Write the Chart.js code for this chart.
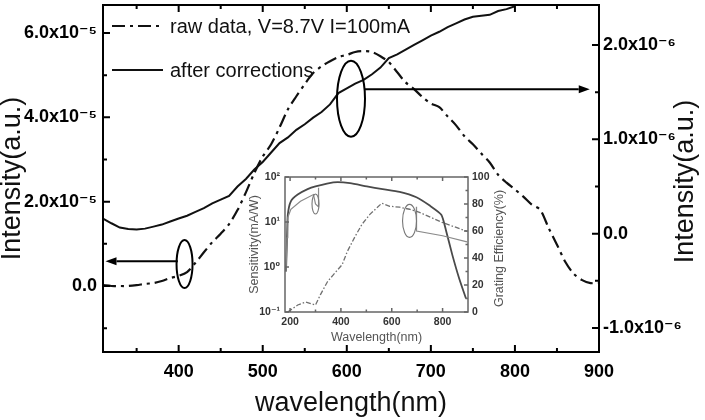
<!DOCTYPE html>
<html>
<head>
<meta charset="utf-8">
<script src="https://cdn.jsdelivr.net/npm/chart.js@4.4.1/dist/chart.umd.min.js"></script>
<style>
  html, body { margin:0; padding:0; background:#fff; }
  #wrap { position:relative; width:705px; height:420px; overflow:hidden; background:#fff; }
  #main { position:absolute; left:0; top:0; }
  #inset { position:absolute; left:246px; top:172px; }
</style>
</head>
<body>
<div id="wrap">
  <canvas id="main" width="705" height="420" style="width:705px;height:420px"></canvas>
  <canvas id="inset" width="264" height="175" style="width:264px;height:175px"></canvas>
</div>
<script>
// ---------------- MAIN CHART DATA ----------------
const wavelengthRaw = [310,320,330,340,350,360,370,380,390,400,410,420,430,440,450,460,470,480,490,500,
  510,520,530,540,550,560,570,580,590,600,610,620,630,640,650,660,670,680,690,700,
  710,720,730,740,750,760,770,780,790,800,810,820,830,840,850,860,870,880,890,900];
// raw data, left axis, in units of 1e-5
const rawIntensity = [0.02,0.00,0.00,0.00,0.02,0.05,0.07,0.12,0.19,0.24,0.33,0.55,0.80,1.04,1.24,1.47,1.80,2.22,2.68,3.07,
  3.36,3.76,4.19,4.50,4.79,5.05,5.21,5.33,5.43,5.48,5.55,5.57,5.55,5.45,5.31,5.07,4.83,4.67,4.48,4.33,
  4.24,4.02,3.81,3.55,3.36,3.14,2.93,2.64,2.45,2.29,2.12,1.93,1.81,1.38,0.98,0.57,0.29,0.14,0.07,0.07];
const wavelengthCorrected = [310,320,330,340,350,360,370,380,390,400,410,420,430,440,450,460,470,480,490,500,
  510,520,530,540,550,560,570,580,590,600,610,620,630,640,650,660,670,680,690,700,
  710,720,730,740,750,760,770,780,790,800];
// after corrections, right axis, in units of 1e-6
const correctedIntensity = [0.16,0.11,0.064,0.048,0.043,0.053,0.074,0.096,0.128,0.16,0.19,0.23,0.27,0.32,0.36,0.40,0.50,0.58,0.68,0.76,
  0.86,0.96,1.02,1.10,1.16,1.23,1.29,1.37,1.49,1.54,1.59,1.63,1.69,1.76,1.86,1.90,1.95,2.00,2.05,2.10,
  2.14,2.19,2.23,2.27,2.30,2.31,2.32,2.36,2.38,2.41];

const xTickValues = [350,400,450,500,550,600,650,700,750,800,850,900];
const xMajorValues = [400,500,600,700,800,900];
const xMajorLabels = ['400','500','600','700','800','900'];
const leftTickValues = [-1,0,1,2,3,4,5,6];
const leftMajorValues = [0,2,4,6];
const leftMajorLabels = ['0.0','2.0x10\u207B\u2075','4.0x10\u207B\u2075','6.0x10\u207B\u2075'];
const rightTickValues = [-1,-0.5,0,0.5,1,1.5,2];
const rightMajorValues = [-1,0,1,2];
const rightMajorLabels = ['-1.0x10\u207B\u2076','0.0','1.0x10\u207B\u2076','2.0x10\u207B\u2076'];
const legendLabels = ['raw data, V=8.7V I=100mA','after corrections'];

// ---------------- INSET DATA ----------------
const insetWavelengthA = [184,188,191,203,230,269,300,370,436,502,564,631,697,748,795,814,838,865,892];
const gratingEffA = [30,55,72,82,87,91,93,96,95.5,93,91,89,85,79,72,60,42.5,25,10];
const insetWavelengthB = [184,188,191,203,241,292,300,311,312,500,697,697.5,800,896];
const gratingEffB = [30,55,70,76,82,87,80,78,92,null,78,60,56.5,52];
const insetWavelengthC = [191,230,261,300,319,347,370,405,425,456,483,514,561,592,631,670,709,798,896];
const sensitivityC = [0.10,0.143,0.167,0.143,0.24,0.47,0.67,1.13,2.2,4.8,8.9,14.8,26.2,22.4,21.3,19.2,16.4,9.8,6.2];
const insetXTickValues = [200,300,400,500,600,700,800];
const insetXMajorValues = [200,400,600,800];
const insetXMajorLabels = ['200','400','600','800'];
const insetLogTickValues = [0.1,1,10,100];
const insetLogLabels = ['10\u207B\u00B9','10\u2070','10\u00B9','10\u00B2'];
const insetPctTickValues = [0,10,20,30,40,50,60,70,80,90,100];
const insetPctMajorValues = [0,20,40,60,80,100];
const insetPctLabels = ['0','20','40','60','80','100'];

const FONT = '"Liberation Sans", Arial, "DejaVu Sans", sans-serif';

function lab(v, vals, labels) {
  for (let i = 0; i < vals.length; i++) if (Math.abs(vals[i] - v) < 1e-9) return labels[i];
  return '';
}
function pts(xs, ys) { return xs.map((x, i) => ({x: x, y: ys[i]})); }

function drawTicks(chart, frameColor, frameWidth, majorLen, minorLen, xId, leftId, rightId) {
  const {ctx, chartArea: a, scales} = chart;
  ctx.save();
  ctx.strokeStyle = frameColor;
  ctx.lineWidth = frameWidth;
  ctx.lineCap = 'butt';
  ctx.strokeRect(a.left, a.top, a.right - a.left, a.bottom - a.top);
  ctx.beginPath();
  const xs = scales[xId];
  xs.ticks.forEach(t => {
    const p = xs.getPixelForValue(t.value);
    const L = t.label ? majorLen : minorLen;
    ctx.moveTo(p, a.bottom); ctx.lineTo(p, a.bottom - L);
    ctx.moveTo(p, a.top); ctx.lineTo(p, a.top + L);
  });
  const yl = scales[leftId];
  yl.ticks.forEach(t => {
    const p = yl.getPixelForValue(t.value);
    const L = t.label ? majorLen : minorLen;
    ctx.moveTo(a.left, p); ctx.lineTo(a.left + L, p);
  });
  const yr = scales[rightId];
  yr.ticks.forEach(t => {
    const p = yr.getPixelForValue(t.value);
    const L = t.label ? majorLen : minorLen;
    ctx.moveTo(a.right, p); ctx.lineTo(a.right - L, p);
  });
  ctx.stroke();
  ctx.restore();
}

function arrow(ctx, x1, y1, x2, y2, head, halfW) {
  const ang = Math.atan2(y2 - y1, x2 - x1);
  const bx = x2 - head * Math.cos(ang), by = y2 - head * Math.sin(ang);
  ctx.beginPath(); ctx.moveTo(x1, y1); ctx.lineTo(bx, by); ctx.stroke();
  ctx.beginPath();
  ctx.moveTo(x2, y2);
  ctx.lineTo(bx + halfW * Math.sin(ang), by - halfW * Math.cos(ang));
  ctx.lineTo(bx - halfW * Math.sin(ang), by + halfW * Math.cos(ang));
  ctx.closePath(); ctx.fill();
}

// annotation anchors (data coordinates)
const ellipseRight = {x: 605, y: 1.43};   // on right axis
const arrowRight = {x1: 621, x2: 889, y: 1.53};
const ellipseLeft = {x: 407, y: 0.52};    // on left axis
const arrowLeft = {x1: 399, x2: 313, y: 0.59};

const mainDecor = {
  id: 'mainDecor',
  afterDraw(chart) {
    const {ctx, chartArea: a, scales} = chart;
    drawTicks(chart, '#000', 2, 7, 4, 'x', 'yL', 'yR');
    const X = scales.x, L = scales.yL, R = scales.yR;
    ctx.save();
    ctx.strokeStyle = '#000'; ctx.fillStyle = '#000'; ctx.lineWidth = 2;
    // ellipse + arrow to right axis
    ctx.beginPath();
    ctx.ellipse(X.getPixelForValue(ellipseRight.x), R.getPixelForValue(ellipseRight.y), 14, 38, 0, 0, Math.PI * 2);
    ctx.stroke();
    arrow(ctx, X.getPixelForValue(arrowRight.x1), R.getPixelForValue(arrowRight.y),
      X.getPixelForValue(arrowRight.x2), R.getPixelForValue(arrowRight.y), 11, 4);
    // ellipse + arrow to left axis
    ctx.beginPath();
    ctx.ellipse(X.getPixelForValue(ellipseLeft.x), L.getPixelForValue(ellipseLeft.y), 8, 24, 0, 0, Math.PI * 2);
    ctx.stroke();
    arrow(ctx, X.getPixelForValue(arrowLeft.x1), L.getPixelForValue(arrowLeft.y),
      X.getPixelForValue(arrowLeft.x2), L.getPixelForValue(arrowLeft.y), 11, 4);
    // legend
    const ds = chart.data.datasets;
    const lx = a.left + 9, lw = 51, tx = a.left + 67;
    const rows = [a.top + 21, a.top + 65];
    ds.forEach((d, i) => {
      ctx.save();
      ctx.lineWidth = d.borderWidth;
      ctx.strokeStyle = d.borderColor;
      ctx.setLineDash(d.borderDash || []);
      ctx.beginPath(); ctx.moveTo(lx, rows[i]); ctx.lineTo(lx + lw, rows[i]); ctx.stroke();
      ctx.restore();
      ctx.font = '20px ' + FONT;
      ctx.fillStyle = '#111';
      ctx.textAlign = 'left';
      ctx.textBaseline = 'middle';
      ctx.fillText(legendLabels[i], tx, rows[i] + 1);
    });
    // right axis title (reads bottom to top)
    ctx.save();
    ctx.translate(685.5, (a.top + a.bottom) / 2 + 3);
    ctx.rotate(-Math.PI / 2);
    ctx.font = '27px ' + FONT;
    ctx.fillStyle = '#111';
    ctx.textAlign = 'center';
    ctx.textBaseline = 'middle';
    ctx.fillText('Intensity(a.u.)', 0, 0);
    ctx.restore();
    ctx.restore();
  }
};

new Chart(document.getElementById('main'), {
  type: 'line',
  data: {
    datasets: [
      {label: legendLabels[0], data: pts(wavelengthRaw, rawIntensity), yAxisID: 'yL',
       borderColor: '#111', borderWidth: 2.2, borderDash: [13, 5, 3, 5], pointRadius: 0, tension: 0.3, fill: false},
      {label: legendLabels[1], data: pts(wavelengthCorrected, correctedIntensity), yAxisID: 'yR',
       borderColor: '#111', borderWidth: 2, pointRadius: 0, tension: 0, fill: false}
    ]
  },
  options: {
    responsive: false, animation: false,
    layout: {padding: {top: 5, left: 0, right: 0, bottom: 0}},
    plugins: {legend: {display: false}, tooltip: {enabled: false}},
    scales: {
      x: {
        type: 'linear', position: 'bottom', min: 310, max: 900,
        grid: {display: false, drawTicks: false}, border: {display: false},
        afterBuildTicks: s => { s.ticks = xTickValues.map(v => ({value: v})); },
        ticks: {autoSkip: false, maxRotation: 0, padding: 9, color: '#000',
          font: {family: FONT, size: 18, weight: 'bold'},
          callback: v => lab(v, xMajorValues, xMajorLabels)},
        title: {display: true, text: 'wavelength(nm)', color: '#111',
          font: {family: FONT, size: 27, lineHeight: 0.9}, padding: {top: 0, bottom: 4}},
        afterFit: s => { s.height = 68; s.paddingLeft = 0; s.paddingRight = 0; }
      },
      yL: {
        type: 'linear', position: 'left', min: -1.565, max: 6.664,
        grid: {display: false, drawTicks: false}, border: {display: false},
        afterBuildTicks: s => { s.ticks = leftTickValues.map(v => ({value: v})); },
        ticks: {autoSkip: false, padding: 6, color: '#000',
          font: {family: FONT, size: 18, weight: 'bold'},
          callback: v => lab(v, leftMajorValues, leftMajorLabels)},
        title: {display: true, text: 'Intensity(a.u.)', color: '#111',
          font: {family: FONT, size: 27, lineHeight: 0.9}, padding: {top: 0, bottom: 0}},
        afterFit: s => { s.width = 103; s.paddingTop = 0; s.paddingBottom = 0; }
      },
      yR: {
        type: 'linear', position: 'right', min: -1.255, max: 2.424,
        grid: {display: false, drawTicks: false}, border: {display: false},
        afterBuildTicks: s => { s.ticks = rightTickValues.map(v => ({value: v})); },
        ticks: {autoSkip: false, padding: 4, color: '#000',
          font: {family: FONT, size: 18, weight: 'bold'},
          callback: v => lab(v, rightMajorValues, rightMajorLabels)},
        title: {display: false},
        afterFit: s => { s.width = 106; s.paddingTop = 0; s.paddingBottom = 0; }
      }
    }
  },
  plugins: [mainDecor]
});

// ---------------- INSET ----------------
const insetEllipse1 = {x: 300, y: 80};
const insetEllipse2 = {x: 670, y: 67.5};

const insetDecor = {
  id: 'insetDecor',
  afterDraw(chart) {
    const {ctx, chartArea: a, scales} = chart;
    drawTicks(chart, '#666', 1.5, 4, 2.5, 'x', 'yS', 'yG');
    const X = scales.x, G = scales.yG;
    ctx.save();
    ctx.strokeStyle = '#777'; ctx.lineWidth = 1.1;
    ctx.beginPath();
    ctx.ellipse(X.getPixelForValue(insetEllipse1.x), G.getPixelForValue(insetEllipse1.y), 3.5, 10, 0, 0, Math.PI * 2);
    ctx.stroke();
    ctx.beginPath();
    ctx.ellipse(X.getPixelForValue(insetEllipse2.x), G.getPixelForValue(insetEllipse2.y), 7, 16.5, 0, 0, Math.PI * 2);
    ctx.stroke();
    ctx.translate(254, (a.top + a.bottom) / 2 + 4);
    ctx.rotate(-Math.PI / 2);
    ctx.font = '12.5px ' + FONT;
    ctx.fillStyle = '#555';
    ctx.textAlign = 'center';
    ctx.textBaseline = 'middle';
    ctx.fillText('Grating Efficiency(%)', 0, 0);
    ctx.restore();
  }
};

new Chart(document.getElementById('inset'), {
  type: 'line',
  data: {
    datasets: [
      {data: pts(insetWavelengthC, sensitivityC), yAxisID: 'yS',
       borderColor: '#707070', borderWidth: 1.3, borderDash: [5, 2, 1.5, 2], pointRadius: 0, tension: 0, fill: false},
      {data: pts(insetWavelengthB, gratingEffB), yAxisID: 'yG', spanGaps: false,
       borderColor: '#8a8a8a', borderWidth: 1.2, pointRadius: 0, tension: 0, fill: false},
      {data: pts(insetWavelengthA, gratingEffA), yAxisID: 'yG',
       borderColor: '#4a4a4a', borderWidth: 1.8, pointRadius: 0, tension: 0.2, fill: false}
    ]
  },
  options: {
    responsive: false, animation: false,
    layout: {padding: {top: 5, left: 0, right: 0, bottom: 0}},
    plugins: {legend: {display: false}, tooltip: {enabled: false}},
    scales: {
      x: {
        type: 'linear', position: 'bottom', min: 180, max: 900,
        grid: {display: false, drawTicks: false}, border: {display: false},
        afterBuildTicks: s => { s.ticks = insetXTickValues.map(v => ({value: v})); },
        ticks: {autoSkip: false, maxRotation: 0, padding: 4, color: '#333',
          font: {family: FONT, size: 10.5, weight: 'bold'},
          callback: v => lab(v, insetXMajorValues, insetXMajorLabels)},
        title: {display: true, text: 'Wavelength(nm)', color: '#555',
          font: {family: FONT, size: 12.5, lineHeight: 1}, padding: {top: 0, bottom: 3.5}},
        afterFit: s => { s.height = 35; s.paddingLeft = 0; s.paddingRight = 0; }
      },
      yS: {
        type: 'logarithmic', position: 'left', min: 0.1, max: 100,
        grid: {display: false, drawTicks: false}, border: {display: false},
        afterBuildTicks: s => { s.ticks = insetLogTickValues.map(v => ({value: v})); },
        ticks: {autoSkip: false, padding: 5, color: '#333',
          font: {family: FONT, size: 10.5, weight: 'bold'},
          callback: v => lab(v, insetLogTickValues, insetLogLabels)},
        title: {display: true, text: 'Sensitivity(mA/W)', color: '#555',
          font: {family: FONT, size: 12.5, lineHeight: 1}, padding: {top: 2.5, bottom: 0}},
        afterFit: s => { s.width = 39; s.paddingTop = 0; s.paddingBottom = 0; }
      },
      yG: {
        type: 'linear', position: 'right', min: 0, max: 100,
        grid: {display: false, drawTicks: false}, border: {display: false},
        afterBuildTicks: s => { s.ticks = insetPctTickValues.map(v => ({value: v})); },
        ticks: {autoSkip: false, padding: 4, color: '#333',
          font: {family: FONT, size: 10.5, weight: 'bold'},
          callback: v => lab(v, insetPctMajorValues, insetPctLabels)},
        title: {display: false},
        afterFit: s => { s.width = 42; s.paddingTop = 0; s.paddingBottom = 0; }
      }
    }
  },
  plugins: [insetDecor]
});
</script>
</body>
</html>
